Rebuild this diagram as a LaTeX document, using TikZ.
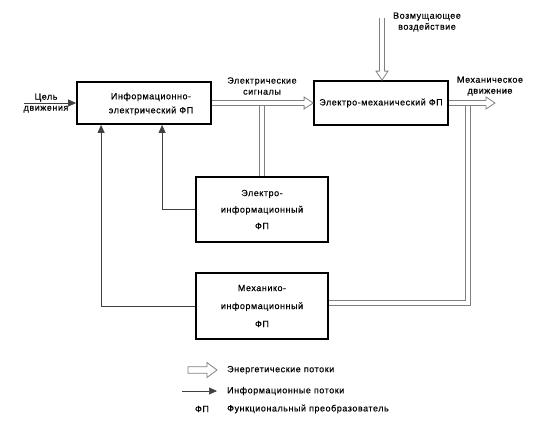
\documentclass[tikz,border=0pt]{standalone}
\usepackage{fontspec}
\setmainfont[LetterSpace=6,FakeBold=0.4]{Liberation Sans}
\usetikzlibrary{arrows.meta,calc}
\newcommand\EheadR[4]{% coord, half height, length, body half
  \filldraw[ehead] ($(#1)+(-#3,-#4)$) -- ($(#1)+(-#3,-#2)$) -- (#1) -- ($(#1)+(-#3,#2)$) -- ($(#1)+(-#3,#4)$);}
\newcommand\EheadD[4]{%
  \filldraw[ehead] ($(#1)+(-#4,-#3)$) -- ($(#1)+(-#2,-#3)$) -- (#1) -- ($(#1)+(#2,-#3)$) -- ($(#1)+(#4,-#3)$);}
\begin{document}
\begin{tikzpicture}[x=1pt,y=-1pt,
 fp/.style={draw=black, line width=1.8pt, fill=white, inner sep=0pt, align=center},
 lbl/.style={align=center, font=\fontsize{9}{11}\selectfont, inner sep=0pt},
 leg/.style={anchor=west, font=\fontsize{9}{11}\selectfont, inner sep=0pt},
 info/.style={draw=black!75, line width=0.7pt, -{Triangle[length=8pt,width=7pt]}},
 energy/.style={draw=black!50, line width=0.8pt, double=white, double distance=3.8pt},
 ehead/.style={fill=white, draw=black!50, line width=0.8pt, line join=miter}
]
\useasboundingbox (0,0) rectangle (557,421);

% boxes
\node[fp, minimum width=134pt, minimum height=42pt, font=\fontsize{9}{14}\selectfont, text depth=0pt] (b1) at (144,103) {\hspace*{14pt}Информационно-\\\hspace*{14pt}электрический ФП};
\node[fp, minimum width=134pt, minimum height=44pt, font=\fontsize{9}{11}\selectfont] (b2) at (381,103) {Электро-механический ФП};
\node[fp, minimum width=132pt, minimum height=65pt, font=\fontsize{9}{16.5}\selectfont] (b3) at (262,209.5) {Электро-\\информационный\\ФП};
\node[fp, minimum width=132pt, minimum height=66pt, font=\fontsize{9}{18}\selectfont] (b4) at (262,306) {Механико-\\информационный\\ФП};

% labels
\node[lbl] (lsig) at (262,86) {Электрические\\сигналы};
\node[lbl] (ldist) at (427,22) {Возмущающее\\воздействие};
\node[lbl] (lmech) at (490,86) {Механическое\\движение};
\node[lbl] (lgoal) at (46,103) {Цель\\движения};

% coordinates
\coordinate (j1) at (262,103);
\coordinate (out) at (495,103);
\coordinate (j2) at (468,103);
\coordinate (c2) at (468,303);
\coordinate (dist) at (382,18);
\coordinate (dtip) at (dist |- b2.north);
\coordinate (goal) at (24,103);
\coordinate (f1) at ($(b1.south west)+(86,0)$);
\coordinate (f2) at ($(b1.south west)+(25,0)$);

% energy flows
\draw[energy] (j1) -- (b3.north);
\draw[energy, shorten >=5pt] (b1.east) -- (b2.west);
\EheadR{b2.west}{6}{9}{2.3}
\draw[energy] (j2) -- (c2) -- (c2 -| b4.east);
\draw[energy, shorten >=5pt] (b2.east) -- (out);
\EheadR{out}{6}{9}{2.3}
\draw[energy, shorten >=5pt] (dist) -- (dtip);
\EheadD{dtip}{6}{9}{2.3}

% info flows
\draw[info] (goal) -- (b1.west);
\draw[info] (b3.west) -| (f1);
\draw[info] (b4.west) -| (f2);

% legend
\coordinate (le1) at (188,370);
\coordinate (le2) at (217,370);
\filldraw[ehead] (le1) ++(0,-3.3) -- ($(le2)+(-10,-3.3)$) -- ($(le2)+(-10,-7.5)$) -- (le2) -- ($(le2)+(-10,7.5)$) -- ($(le2)+(-10,3.3)$) -- ($(le1)+(0,3.3)$) -- cycle;
\node[leg] (t1) at (227,370) {Энергетические потоки};
\coordinate (li1) at (182,391);
\coordinate (li2) at (217,391);
\draw[info] (li1) -- (li2);
\node[leg] (t2) at (227,391) {Информационные потоки};
\node[lbl] (fpa) at (202,409) {ФП};
\node[leg] (t3) at (227,409) {Функциональный преобразователь};
\end{tikzpicture}
\end{document}
